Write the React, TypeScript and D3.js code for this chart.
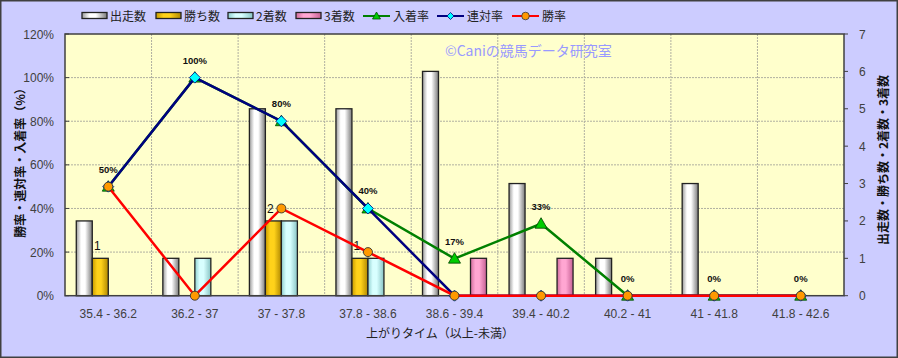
import React from "react";
import * as d3 from "d3";

const categories = ["35.4 - 36.2", "36.2 - 37", "37 - 37.8", "37.8 - 38.6", "38.6 - 39.4", "39.4 - 40.2", "40.2 - 41", "41 - 41.8", "41.8 - 42.6"];
const runs = [2, 1, 5, 5, 6, 3, 1, 3, 0];
const wins = [1, 0, 2, 1, 0, 0, 0, 0, 0];
const seconds = [0, 1, 2, 1, 0, 0, 0, 0, 0];
const thirds = [0, 0, 0, 0, 1, 1, 0, 0, 0];
const placeRate = [50, 100, 80, 40, 17, 33, 0, 0, 0];
const rentaiRate = [50, 100, 80, 40, 0, 0, 0, 0, 0];
const winRate = [50, 0, 40, 20, 0, 0, 0, 0, 0];
const leftTicks = [0, 20, 40, 60, 80, 100, 120];
const rightTicks = [0, 1, 2, 3, 4, 5, 6, 7];

const W = 898, H = 358;
const PL = 65, PR = 844, PT = 34, PB = 295.7;

const barSeries = [
  { name: "出走数", data: runs, grad: "gRun" },
  { name: "勝ち数", data: wins, grad: "gWin" },
  { name: "2着数", data: seconds, grad: "gSec" },
  { name: "3着数", data: thirds, grad: "gThi" },
];

export default function App() {
  const x = d3.scaleBand<string>().domain(categories).range([PL, PR]).paddingInner(0).paddingOuter(0);
  const bw = x.bandwidth();
  const sub = d3.scaleBand<number>().domain([0, 1, 2, 3]).range([0, 64]);
  const yL = d3.scaleLinear().domain([0, 120]).range([PB, PT]);
  const yR = d3.scaleLinear().domain([0, 7]).range([PB, PT]);
  const cx = (i: number) => (x(categories[i]) as number) + bw / 2;
  const groupOff = (bw - 64) / 2;
  const line = d3.line<number>().x((_, i) => cx(i)).y((d) => yL(d));
  const font = "'Liberation Sans', Arial, sans-serif";
  const jfont = "'Noto Sans CJK JP', 'Liberation Sans', sans-serif";

  const grads: [string, string, string, string][] = [
    ["gRun", "#9a9a9a", "#ffffff", "#7a7a7a"],
    ["gWin", "#c89b00", "#ffd21a", "#b08800"],
    ["gSec", "#8fcfcf", "#d8ffff", "#88c4c4"],
    ["gThi", "#d06c9c", "#ffa6d2", "#c66094"],
  ];

  const tri = (px: number, py: number) => `M${px},${py - 6}L${px + 6},${py + 4.5}L${px - 6},${py + 4.5}Z`;
  const dia = (px: number, py: number) => `M${px},${py - 5.5}L${px + 5.5},${py}L${px},${py + 5.5}L${px - 5.5},${py}Z`;

  const legendItems = [
    { type: "bar", grad: "gRun", label: "出走数", x: 82 },
    { type: "bar", grad: "gWin", label: "勝ち数", x: 156 },
    { type: "bar", grad: "gSec", label: "2着数", x: 228 },
    { type: "bar", grad: "gThi", label: "3着数", x: 296 },
    { type: "tri", label: "入着率", x: 363 },
    { type: "dia", label: "連対率", x: 437 },
    { type: "cir", label: "勝率", x: 512 },
  ];

  return (
    <svg width={W} height={H} style={{ position: "absolute", left: 0, top: 0 }} xmlns="http://www.w3.org/2000/svg">
      <defs>
        {grads.map(([id, a, b, c]) => (
          <linearGradient key={id} id={id} x1="0" x2="1" y1="0" y2="0">
            <stop offset="0" stopColor={a} />
            <stop offset="0.3" stopColor={b} />
            <stop offset="0.55" stopColor={b} />
            <stop offset="1" stopColor={c} />
          </linearGradient>
        ))}
      </defs>
      <rect x={0} y={0} width={W} height={H} fill="#ccccff" />
      <rect x={0.75} y={0.75} width={W - 1.5} height={H - 1.5} fill="none" stroke="#404040" strokeWidth={1.5} />
      {/* Legend */}
      {legendItems.map((it) => (
        <g key={it.label}>
          {it.type === "bar" && (
            <rect x={it.x} y={12.5} width={25} height={6} fill={`url(#${it.grad})`} stroke="#222" strokeWidth={1.3} />
          )}
          {it.type === "tri" && (
            <g>
              <line x1={it.x} x2={it.x + 27} y1={16} y2={16} stroke="#008000" strokeWidth={2} />
              <path d={`M${it.x + 13.5},${12}L${it.x + 17.5},${19}L${it.x + 9.5},${19}Z`} fill="#00cc00" stroke="#005000" strokeWidth={0.8} />
            </g>
          )}
          {it.type === "dia" && (
            <g>
              <line x1={it.x} x2={it.x + 27} y1={16} y2={16} stroke="#000080" strokeWidth={2} />
              <path d={`M${it.x + 13.5},${12.5}L${it.x + 17},${16}L${it.x + 13.5},${19.5}L${it.x + 10},${16}Z`} fill="#00ffff" stroke="#000080" strokeWidth={0.8} />
            </g>
          )}
          {it.type === "cir" && (
            <g>
              <line x1={it.x} x2={it.x + 27} y1={16} y2={16} stroke="#ff0000" strokeWidth={2} />
              <circle cx={it.x + 13.5} cy={16} r={3.8} fill="#ff9900" stroke="#333" strokeWidth={0.8} />
            </g>
          )}
          <text x={it.x + (it.type === "bar" ? 28 : 30)} y={20.5} fontSize={12} fontFamily={jfont} fill="#222">
            {it.label}
          </text>
        </g>
      ))}
      {/* Plot area */}
      <rect x={PL} y={PT} width={PR - PL} height={PB - PT} fill="#ffffcc" />
      {leftTicks.slice(1, -1).map((t) => (
        <line key={"h" + t} x1={PL} x2={PR} y1={yL(t)} y2={yL(t)} stroke="#b0b0a0" strokeDasharray="2,1" strokeWidth={1} />
      ))}
      {categories.slice(1).map((c) => (
        <line key={"v" + c} x1={x(c)} x2={x(c)} y1={PT} y2={PB} stroke="#b0b0a0" strokeDasharray="2,1" strokeWidth={1} />
      ))}
      <text x={445} y={56} fontSize={14} fontFamily={jfont} fill="#9999ff">©Caniの競馬データ研究室</text>
      {/* Bars */}
      {barSeries.map((s, si) =>
        s.data.map((v, i) =>
          v > 0 ? (
            <rect
              key={s.name + i}
              x={(x(categories[i]) as number) + groupOff + (sub(si) as number)}
              y={yR(v)}
              width={sub.bandwidth()}
              height={PB - yR(v)}
              fill={`url(#${s.grad})`}
              stroke="#222"
              strokeWidth={1.3}
            />
          ) : null
        )
      )}
      {wins.map((v, i) =>
        v > 0 ? (
          <text key={"wl" + i} x={(x(categories[i]) as number) + groupOff + (sub(1) as number) + 8 - 3} y={yR(v) - 8} fontSize={12} fontFamily={font} fill="#111" textAnchor="middle">
            {v}
          </text>
        ) : null
      )}
      {/* Plot border */}
      <rect x={PL} y={PT} width={PR - PL} height={PB - PT} fill="none" stroke="#404040" strokeWidth={1.5} />
      {/* Lines */}
      <path d={line(placeRate) || ""} fill="none" stroke="#008000" strokeWidth={2.5} />
      {placeRate.map((v, i) => (
        <path key={"t" + i} d={tri(cx(i), yL(v))} fill="#00cc00" stroke="#004000" strokeWidth={0.8} />
      ))}
      <path d={line(rentaiRate) || ""} fill="none" stroke="#000080" strokeWidth={2.5} />
      {rentaiRate.map((v, i) => (
        <path key={"d" + i} d={dia(cx(i), yL(v))} fill="#00ffff" stroke="#000080" strokeWidth={0.8} />
      ))}
      <path d={line(winRate) || ""} fill="none" stroke="#ff0000" strokeWidth={2.5} />
      {winRate.map((v, i) => (
        <circle key={"c" + i} cx={cx(i)} cy={yL(v)} r={4.5} fill="#ff9900" stroke="#333" strokeWidth={0.9} />
      ))}
      {placeRate.map((v, i) => (
        <text key={"pl" + i} x={cx(i)} y={yL(v) - 14} fontSize={9.5} fontWeight="bold" fontFamily={font} fill="#111" textAnchor="middle">
          {v}%
        </text>
      ))}
      {/* Left axis */}
      {leftTicks.map((t) => (
        <g key={"lt" + t}>
          <line x1={PL} x2={PL + 4} y1={yL(t)} y2={yL(t)} stroke="#404040" />
          <text x={54} y={yL(t) + 4.5} fontSize={12} fontFamily={font} fill="#404040" textAnchor="end">
            {t}%
          </text>
        </g>
      ))}
      {/* Right axis */}
      {rightTicks.map((t) => (
        <g key={"rt" + t}>
          <line x1={PR} x2={PR + 4} y1={yR(t)} y2={yR(t)} stroke="#404040" />
          <text x={859} y={yR(t) + 4.5} fontSize={12} fontFamily={font} fill="#404040">
            {t}
          </text>
        </g>
      ))}
      {/* X labels */}
      {categories.map((c, i) => (
        <text key={"xl" + c} x={cx(i)} y={318} fontSize={12} fontFamily={font} fill="#404040" textAnchor="middle">
          {c}
        </text>
      ))}
      <text x={440} y={338} fontSize={12} fontFamily={jfont} fill="#222" textAnchor="middle">
        上がりタイム（以上-未満）
      </text>
      <text transform={`translate(25,160) rotate(-90)`} fontSize={12} fontWeight="bold" fontFamily={jfont} fill="#111" textAnchor="middle">
        勝率・連対率・入着率（%）
      </text>
      <text transform={`translate(888,160) rotate(-90)`} fontSize={12} fontWeight="bold" fontFamily={jfont} fill="#111" textAnchor="middle">
        出走数・勝ち数・2着数・3着数
      </text>
    </svg>
  );
}
